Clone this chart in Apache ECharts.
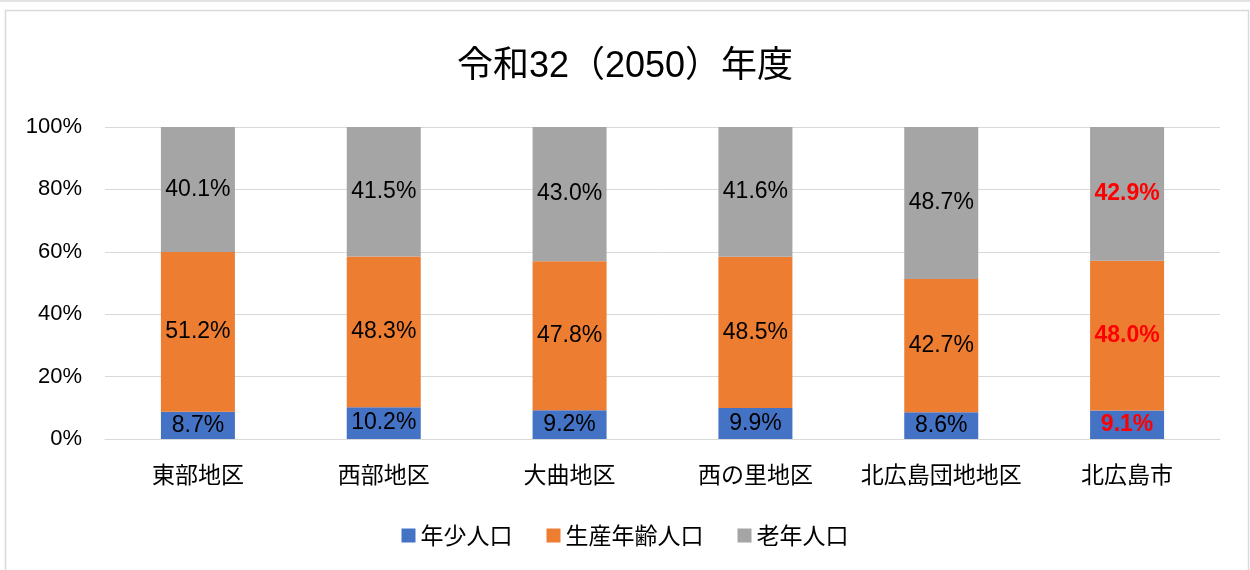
<!DOCTYPE html>
<html>
<head>
<meta charset="utf-8">
<script src="https://cdn.jsdelivr.net/npm/echarts@6/dist/echarts.min.js"></script>
<style>
  html, body { margin: 0; padding: 0; background: #fff; }
  #chart { width: 1250px; height: 570px; }
</style>
</head>
<body>
<div id="chart"></div>
<script>
// data
var categories = ['東部地区', '西部地区', '大曲地区', '西の里地区', '北広島団地地区', '北広島市']
var youth = [8.7, 10.2, 9.2, 9.9, 8.6, 9.1]
var working = [51.2, 48.3, 47.8, 48.5, 42.7, 48.0]
var elderly = [40.1, 41.5, 43.0, 41.6, 48.7, 42.9]
var yTicks = ['0%', '20%', '40%', '60%', '80%', '100%']

var font = '"Liberation Sans", Arial, "Noto Sans CJK JP", sans-serif'
var cjk = '"Noto Sans CJK JP", sans-serif'

// the last category (whole city) is highlighted in red bold
function toData(arr) {
  return arr.map(function(v, i) {
    if (i === categories.length - 1) {
      return { value: v, label: { color: '#FF0000', fontWeight: 'bold' } }
    }
    return v
  })
}

function makeSeries(name, arr, color) {
  return {
    name: name,
    type: 'bar',
    stack: 'total',
    barWidth: 74,
    data: toData(arr),
    itemStyle: { color: color },
    label: {
      show: true,
      position: 'inside',
      color: '#000',
      fontSize: 23,
      fontFamily: font,
      formatter: function(p) { return p.value.toFixed(1) + '%' }
    }
  }
}

var chart = echarts.init(document.getElementById('chart'))
chart.setOption({
  animation: false,
  title: {
    text: '令和32（2050）年度',
    left: 'center',
    top: 44,
    textStyle: { fontSize: 36, fontWeight: 'normal', color: '#000', fontFamily: font }
  },
  legend: {
    top: 519,
    left: 'center',
    itemWidth: 14,
    itemHeight: 14,
    itemGap: 34,
    icon: 'rect',
    textStyle: { fontSize: 23, color: '#000', fontFamily: cjk }
  },
  grid: { left: 105, right: 30, top: 127, bottom: 131 },
  xAxis: {
    type: 'category',
    data: categories,
    axisLine: { lineStyle: { color: '#D9D9D9', width: 1 } },
    axisTick: { show: false },
    axisLabel: { interval: 0, fontSize: 23, color: '#000', margin: 24, fontFamily: cjk }
  },
  yAxis: {
    type: 'value',
    min: 0,
    max: 100,
    interval: 20,
    axisLine: { show: false },
    axisTick: { show: false },
    splitLine: { lineStyle: { color: '#D9D9D9', width: 1 } },
    axisLabel: {
      fontSize: 22,
      color: '#000',
      margin: 23,
      fontFamily: font,
      formatter: function(v) { return yTicks[v / 20] }
    }
  },
  graphic: [
    { type: 'rect', shape: { x: 0, y: 0, width: 1250, height: 2 }, style: { fill: '#E3E3E3' }, silent: true },
    { type: 'rect', shape: { x: 5.5, y: 10.5, width: 1243, height: 600 }, style: { fill: 'none', stroke: '#D9D9D9', lineWidth: 1.5 }, silent: true }
  ],
  series: [
    makeSeries('年少人口', youth, '#4472C4'),
    makeSeries('生産年齢人口', working, '#ED7D31'),
    makeSeries('老年人口', elderly, '#A5A5A5')
  ]
})
</script>
</body>
</html>
